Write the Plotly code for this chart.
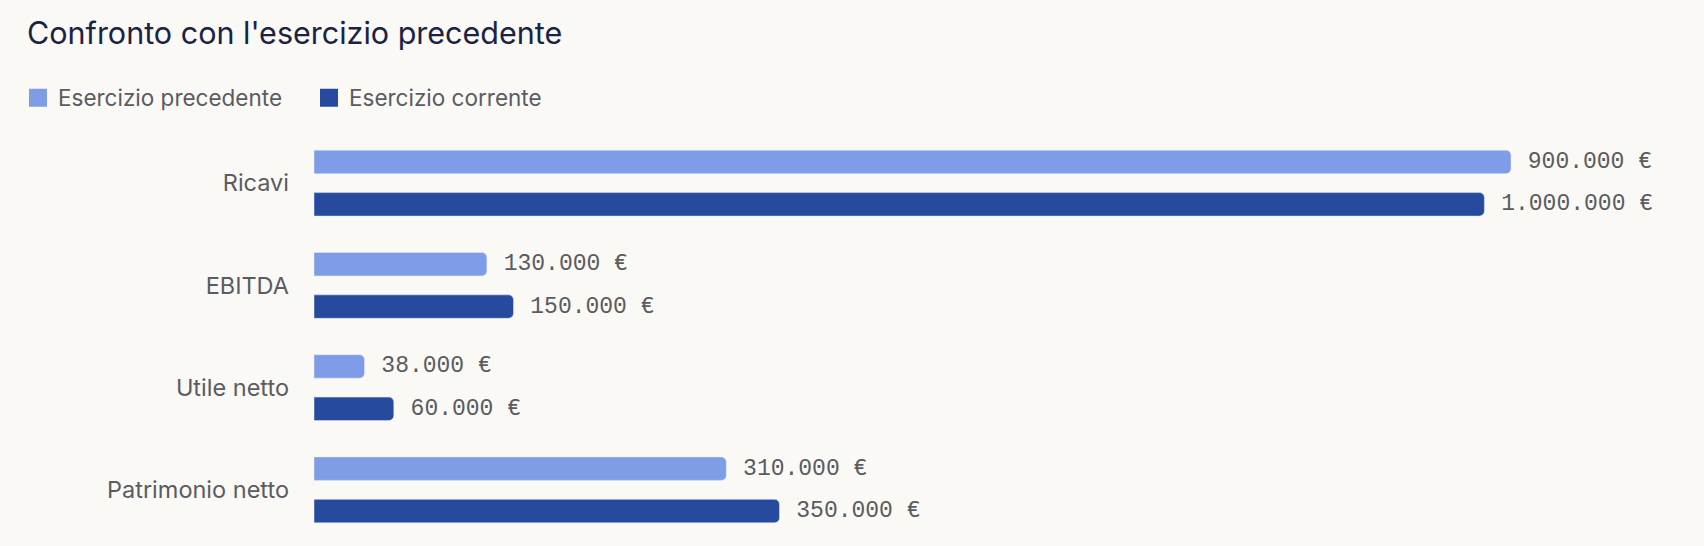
import plotly.graph_objects as go

# categorie e valori
categorie = ["Ricavi", "EBITDA", "Utile netto", "Patrimonio netto"]

# lunghezze delle barre
esercizio_precedente = [900000, 130000, 38000, 310000]
esercizio_corrente = [880000, 150000, 60000, 350000]

# importi mostrati accanto alle barre
importi_precedente = [900000, 130000, 38000, 310000]
importi_corrente = [1000000, 150000, 60000, 350000]


def formatta(v):
    return "\u00a0" + f"{v:,}".replace(",", ".") + " €"


W, H = 1704, 546
SANS = "Inter"
MONO = "Liberation Mono"

fig = go.Figure()

fig.add_trace(go.Bar(
    y=categorie,
    x=esercizio_precedente,
    orientation="h",
    name="Esercizio precedente",
    marker_color="#7F9DE6",
    text=[formatta(v) for v in importi_precedente],
    textposition="outside",
    constraintext="none",
    cliponaxis=False,
    textfont=dict(family=MONO, size=23, color="#5b5b60"),
    showlegend=False,
))

fig.add_trace(go.Bar(
    y=categorie,
    x=esercizio_corrente,
    orientation="h",
    name="Esercizio corrente",
    marker_color="#264A9E",
    text=[formatta(v) for v in importi_corrente],
    textposition="outside",
    constraintext="none",
    cliponaxis=False,
    textfont=dict(family=MONO, size=23, color="#5b5b60"),
    showlegend=False,
))

# voci di legenda (quadratini)
for nome, colore in [("Esercizio precedente", "#7F9DE6"), ("Esercizio corrente", "#264A9E")]:
    fig.add_trace(go.Scatter(
        x=[None], y=[None],
        mode="markers",
        name=nome,
        marker=dict(symbol="square", size=16, color=colore,
                    line=dict(width=2, color=colore)),
        showlegend=True,
    ))

fig.update_layout(
    width=W,
    height=H,
    paper_bgcolor="#FAF9F6",
    plot_bgcolor="#FAF9F6",
    barmode="group",
    bargap=0.17,
    bargroupgap=0.447,
    barcornerradius=5,
    margin=dict(l=314, r=60, t=132, b=5),
    title=dict(
        text="Confronto con l'esercizio precedente",
        font=dict(family=SANS, size=30.5, color="#1B2344"),
        x=27 / W, xref="container", xanchor="left",
        y=1 - 33 / H, yref="container", yanchor="middle",
    ),
    legend=dict(
        orientation="h",
        x=18 / W, xref="container", xanchor="left",
        y=1 - 98 / H, yref="container", yanchor="middle",
        font=dict(family=SANS, size=22.5, color="#5b5b63"),
        entrywidth=246,
        itemsizing="trace",
        bgcolor="rgba(0,0,0,0)",
    ),
    font=dict(family=SANS),
)

fig.update_xaxes(
    range=[0, 1000000],
    visible=False,
    showgrid=False,
    zeroline=False,
)

fig.update_yaxes(
    autorange="reversed",
    showgrid=False,
    zeroline=False,
    showline=False,
    ticks="",
    ticklabelstandoff=24,
    tickfont=dict(family=SANS, size=23.5, color="#5b5b63"),
)

fig.write_html("out.html", config={"displayModeBar": False},
               post_script="document.body.style.margin='0';")
